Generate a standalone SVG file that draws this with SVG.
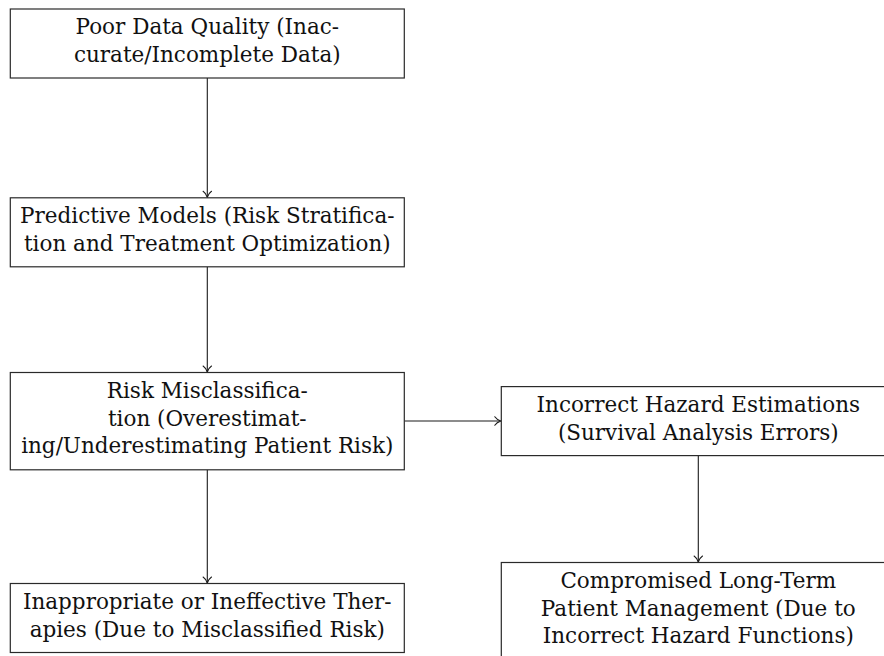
<svg xmlns="http://www.w3.org/2000/svg" width="884" height="656" viewBox="0 0 884 656">
<defs>
<style>
.box{fill:#fff;stroke:#2a2a2a;stroke-width:1.2}
.t{font-family:"DejaVu Serif","Liberation Serif",serif;font-size:21.5px;fill:#111;text-anchor:middle}
.c{fill:none;stroke:#1a1a1a;stroke-width:1.1}
</style>
<marker id="arr" markerUnits="userSpaceOnUse" markerWidth="12" markerHeight="12" refX="0" refY="0" viewBox="-8 -6 10 12" orient="auto" overflow="visible">
<path d="M-6,-4.2 C-4.5,-2 -1.5,-0.5 0,0 C-1.5,0.5 -4.5,2 -6,4.2" fill="none" stroke="#1a1a1a" stroke-width="1.1" stroke-linecap="round"/>
</marker>
</defs>
<rect width="884" height="656" fill="#fff"/>
<g id="connectors">
<line class="c" x1="207.3" y1="78" x2="207.3" y2="197.3" marker-end="url(#arr)"/>
<line class="c" x1="207.3" y1="266.8" x2="207.3" y2="372" marker-end="url(#arr)"/>
<line class="c" x1="207.3" y1="469.8" x2="207.3" y2="583" marker-end="url(#arr)"/>
<line class="c" x1="404.3" y1="421" x2="500.8" y2="421" marker-end="url(#arr)"/>
<line class="c" x1="698.3" y1="455.6" x2="698.3" y2="562" marker-end="url(#arr)"/>
</g>
<g id="n1">
<rect class="box" x="10.3" y="9" width="394" height="69"/>
<text class="t" x="207.3" y="34.2">Poor Data Quality (Inac-</text>
<text class="t" x="207.3" y="61.7">curate/Incomplete Data)</text>
</g>
<g id="n2">
<rect class="box" x="10.3" y="197.8" width="394" height="69"/>
<text class="t" x="207.3" y="223">Predictive Models (Risk Stratifica-</text>
<text class="t" x="207.3" y="250.5">tion and Treatment Optimization)</text>
</g>
<g id="n3">
<rect class="box" x="10.3" y="372.5" width="394" height="97.3"/>
<text class="t" x="207.3" y="398.1">Risk Misclassifica-</text>
<text class="t" x="207.3" y="425.6">tion (Overestimat-</text>
<text class="t" x="207.3" y="453.1">ing/Underestimating Patient Risk)</text>
</g>
<g id="n4">
<rect class="box" x="501.3" y="386.6" width="394" height="69"/>
<text class="t" x="698.3" y="412">Incorrect Hazard Estimations</text>
<text class="t" x="698.3" y="439.5">(Survival Analysis Errors)</text>
</g>
<g id="n5">
<rect class="box" x="10.3" y="583.5" width="394" height="69"/>
<text class="t" x="207.3" y="609.2">Inappropriate or Ineffective Ther-</text>
<text class="t" x="207.3" y="636.7">apies (Due to Misclassified Risk)</text>
</g>
<g id="n6">
<rect class="box" x="501.3" y="562.5" width="394" height="97.3"/>
<text class="t" x="698.3" y="588.3">Compromised Long-Term</text>
<text class="t" x="698.3" y="615.8">Patient Management (Due to</text>
<text class="t" x="698.3" y="643.3">Incorrect Hazard Functions)</text>
</g>
</svg>
